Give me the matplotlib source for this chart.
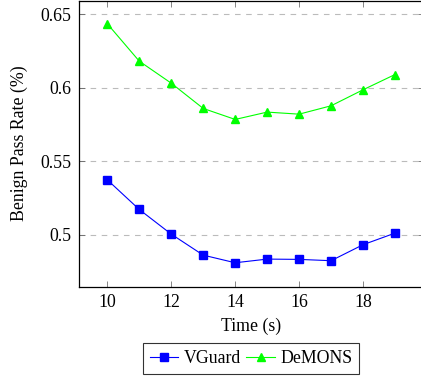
import matplotlib
matplotlib.use("Agg")
import matplotlib.pyplot as plt

# data
time_s = [10, 11, 12, 13, 14, 15, 16, 17, 18, 19]
vguard = [0.5374, 0.5172, 0.5004, 0.4861, 0.4809, 0.4834, 0.4832, 0.4823, 0.4932, 0.5011]
demons = [0.6437, 0.6182, 0.6032, 0.5860, 0.5785, 0.5835, 0.5821, 0.5878, 0.5987, 0.6091]
y_ticks = [0.5, 0.55, 0.6, 0.65]
y_tick_labels = ["0.5", "0.55", "0.6", "0.65"]
x_ticks = [10, 12, 14, 16, 18]

plt.rcParams["font.family"] = ["Liberation Serif", "DejaVu Serif"]
plt.rcParams["font.size"] = 12.8

fig = plt.figure(figsize=(4.21, 3.77), dpi=100)
ax = fig.add_axes([78.5 / 421, 90.3 / 377, 345.3 / 421, 286.2 / 377])

ax.plot(time_s, vguard, color="#0000ff", marker="s", markersize=5.5, linewidth=0.8, label="VGuard")
ax.plot(time_s, demons, color="#00ff00", marker="^", markersize=5.5, linewidth=0.8, label="DeMONS")

ax.set_xlim(9.1, 19.9)
ax.set_ylim(0.4646, 0.6595)
ax.set_xticks(x_ticks)
ax.set_yticks(y_ticks)
ax.set_yticklabels(y_tick_labels)
ax.tick_params(direction="in", top=True, right=True, length=4, width=0.5, colors="#555555",
               labelcolor="black", pad=5)
ax.grid(axis="y", linestyle=(0, (5, 5)), color="#bbbbbb", linewidth=0.8)
for s in ax.spines.values():
    s.set_linewidth(0.9)

ax.set_xlabel("Time (s)", labelpad=5)
ax.set_ylabel("Benign Pass Rate (%)", labelpad=9)

leg = ax.legend(loc="upper center", bbox_to_anchor=(0.5, -0.196), ncol=2, frameon=True,
                fancybox=False, edgecolor="black", handlelength=1.6, handletextpad=0.3,
                columnspacing=0.3, borderpad=0.4, borderaxespad=0)
leg.get_frame().set_linewidth(0.8)

fig.savefig("out.png", dpi=100)
